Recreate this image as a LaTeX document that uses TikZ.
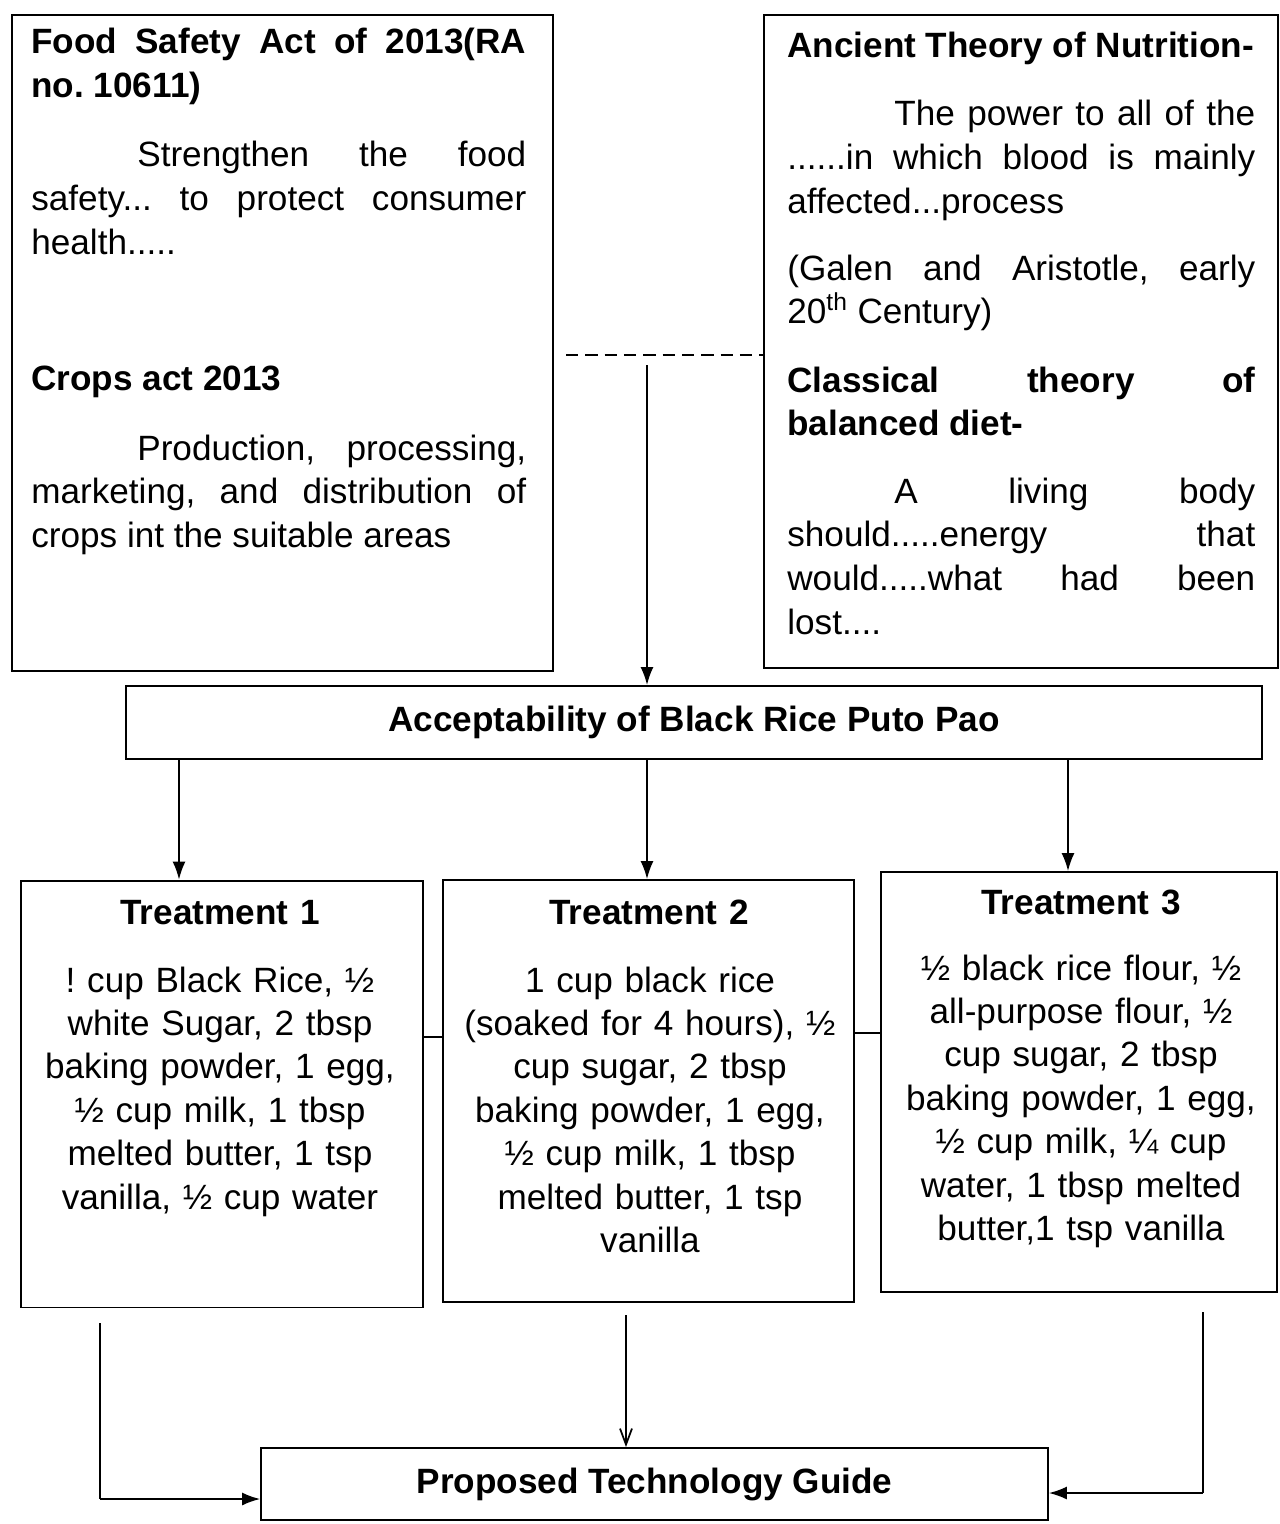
\documentclass[tikz,border=0pt]{standalone}
\usepackage{fontspec}
\setmainfont{Liberation Sans}
\usetikzlibrary{arrows.meta}
\tolerance=10000
\hbadness=10000
\hyphenpenalty=10000
\exhyphenpenalty=10000
\frenchspacing
\begin{document}
\begin{tikzpicture}[x=0.02cm,y=-0.02cm,
  box/.style={draw, line width=1.1pt, rectangle, inner sep=0pt},
  para/.style={inner sep=0pt, anchor=base west, align=justify,
    font=\fontsize{20}{25}\selectfont},
  treat/.style={inner sep=0pt, anchor=base, align=center, text width=7.9cm,
    font=\fontsize{20}{24.75}\selectfont},
  conn/.style={line width=1pt},
  arr/.style={line width=1pt, -{Latex[length=0.36cm,width=0.26cm]}},
  openarr/.style={line width=1pt, -{Straight Barb[length=0.32cm,width=0.24cm]}},
  thinline/.style={line width=0.6pt}
]
\useasboundingbox (0,0) rectangle (1279,1524);

% ---------- boxes ----------
\node[box, minimum width=10.82cm, minimum height=13.12cm] (lawbox) at (282.5,343) {};
\node[box, minimum width=10.28cm, minimum height=13.06cm] (theorybox) at (1021,341.5) {};
\node[box, minimum width=22.72cm, minimum height=1.46cm,
  font=\fontsize{20}{24}\selectfont\bfseries] (accept) at (694,722.5) {Acceptability of Black Rice Puto Pao};
\node[box, minimum width=8.04cm, minimum height=8.54cm] (t1) at (222,1094) {};
\node[box, minimum width=8.22cm, minimum height=8.44cm] (t2) at (648.5,1091) {};
\node[box, minimum width=7.92cm, minimum height=8.4cm] (t3) at (1079,1082) {};
\node[box, minimum width=15.74cm, minimum height=1.44cm,
  font=\fontsize{20}{24}\selectfont\bfseries] (guide) at (654.5,1484) {Proposed Technology Guide};

% ---------- left box text ----------
\node[para, text width=9.9cm] (fsa) at (31,54)
  {\bfseries Food Safety Act of 2013(RA\linebreak no. 10611)};
\node[para, text width=9.9cm] (fsatext) at (31,167)
  {\hspace*{2.12cm}Strengthen the food\linebreak safety... to protect consumer\linebreak health.....};
\node[para, text width=9.9cm] (crops) at (31,390)
  {\bfseries Crops act 2013};
\node[para, text width=9.9cm] (cropstext) at (31,460)
  {\hspace*{2.12cm}Production, processing,\linebreak marketing, and distribution of\linebreak crops int the suitable areas};

% ---------- right box text ----------
\node[para, text width=9.36cm] (ancient) at (787,58)
  {\bfseries Ancient Theory of Nutrition-};
\node[para, text width=9.36cm] (ancienttext) at (787,126)
  {\hspace*{2.14cm}The power to all of the\linebreak ......in which blood is mainly\linebreak affected...process};
\node[para, text width=9.36cm] (galen) at (787,280)
  {(Galen and Aristotle, early\linebreak 20\textsuperscript{th} Century)};
\node[para, text width=9.36cm] (classical) at (787,392)
  {\bfseries Classical theory of\linebreak balanced diet-};
\node[para, text width=9.36cm] (classicaltext) at (787,503)
  {\hspace*{2.14cm}A living body\linebreak should.....energy that\linebreak would.....what had been\linebreak lost....};

% ---------- treatment texts ----------
\node[treat, font=\fontsize{20}{24}\selectfont\bfseries] (t1title) at (220,924) {Treatment 1};
\node[treat] (t1text) at (220,992)
  {! cup Black Rice, ½\\ white Sugar, 2 tbsp\\ baking powder, 1 egg,\\ ½ cup milk, 1 tbsp\\ melted butter, 1 tsp\\ vanilla, ½ cup water};
\node[treat, font=\fontsize{20}{24}\selectfont\bfseries] (t2title) at (649,924) {Treatment 2};
\node[treat] (t2text) at (650,992)
  {1 cup black rice\\ (soaked for 4 hours), ½\\ cup sugar, 2 tbsp\\ baking powder, 1 egg,\\ ½ cup milk, 1 tbsp\\ melted butter, 1 tsp\\ vanilla};
\node[treat, font=\fontsize{20}{24}\selectfont\bfseries] (t3title) at (1081,914) {Treatment 3};
\node[treat] (t3text) at (1081,980)
  {½ black rice flour, ½\\ all-purpose flour, ½\\ cup sugar, 2 tbsp\\ baking powder, 1 egg,\\ ½ cup milk, ¼ cup\\ water, 1 tbsp melted\\ butter,1 tsp vanilla};

% ---------- connectors ----------
\coordinate (dashstart) at (566,355);
\draw[conn, dash pattern=on 7pt off 4pt] (dashstart) -- (dashstart -| theorybox.west);
\coordinate (downstart) at (647,365);
\draw[arr] (downstart) -- (downstart |- accept.north);

\coordinate (c1) at (179,0);
\coordinate (c2) at (647,0);
\coordinate (c3) at (1068,0);
\draw[arr] (accept.south -| c1) -- (t1.north -| c1);
\draw[arr] (accept.south -| c2) -- (t2.north -| c2);
\draw[arr] (accept.south -| c3) -- (t3.north -| c3);

\coordinate (ya) at (0,1037);
\coordinate (yb) at (0,1033);
\draw[thinline] (t1.east |- ya) -- (t2.west |- ya);
\draw[thinline] (t2.east |- yb) -- (t3.west |- yb);

\coordinate (bl) at (100,1323);
\coordinate (bly) at (0,1499);
\draw[conn] (bl) -- (bl |- bly);
\draw[arr] (bl |- bly) -- (guide.west |- bly);
\coordinate (bm) at (626,1315);
\draw[openarr] (bm) -- (bm |- guide.north);
\coordinate (br) at (1203,1312);
\coordinate (bry) at (0,1493);
\draw[conn] (br) -- (br |- bry);
\draw[arr] (br |- bry) -- (guide.east |- bry);
\end{tikzpicture}
\end{document}
